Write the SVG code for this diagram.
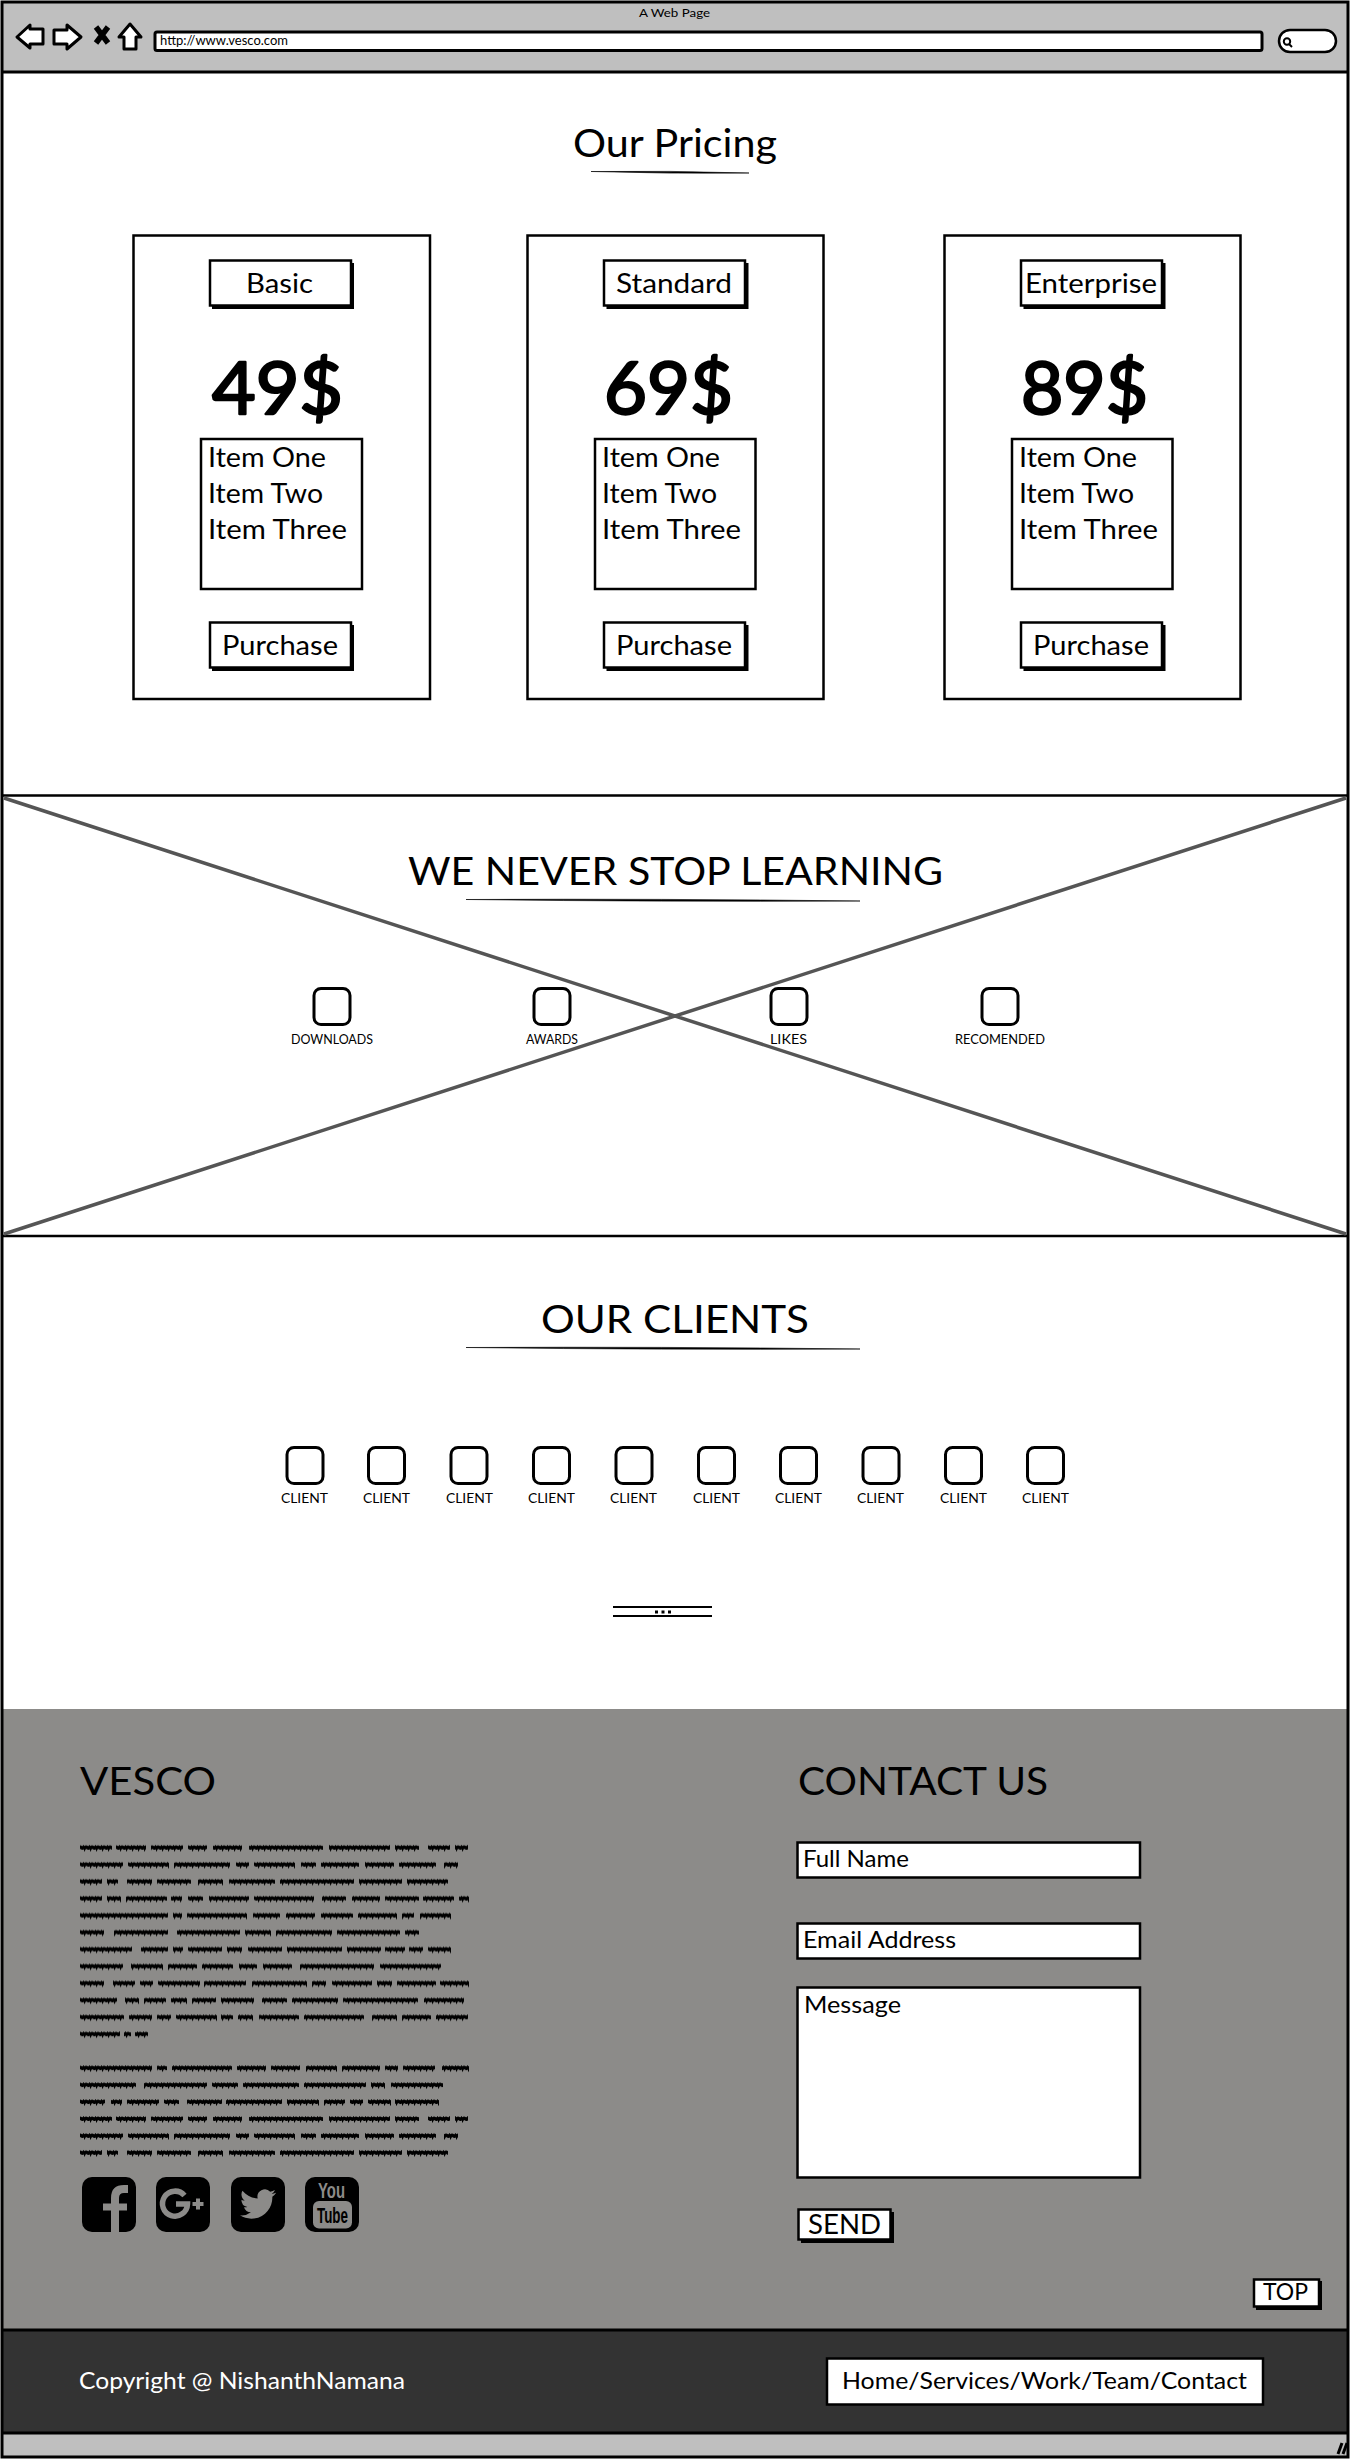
<svg xmlns="http://www.w3.org/2000/svg" width="1350" height="2460" viewBox="0 0 1350 2460">
<style>
text{font-family:"Lato","Noto Sans",sans-serif;fill:#000}
.b{fill:#fff;stroke:#000;stroke-width:2.5}
.card{fill:#fff;stroke:#000;stroke-width:2.5}
.sh{fill:#000}
.ic{fill:#fff;stroke:#000;stroke-width:3}
.l{font-size:26px}
.h{font-size:38px}
.p{font-size:72px;stroke:#000;stroke-width:2.4px;stroke-linejoin:round}
.s{font-size:14px}
.rule{fill:#000;stroke:#000;stroke-width:.6}
.ln{stroke:#000;stroke-width:3;fill:none}
.gs{fill:#000}
.gi{fill:#8c8b89;stroke:none}
.gk{fill:none;stroke:url(#greek);stroke-width:8}
</style>
<defs>
<pattern id="greek" patternUnits="userSpaceOnUse" x="0" y="1839.825" width="6" height="16.95">
<path d="M-1 11 Q1 6 3 7.500 Q4.500 9.500 7 6" fill="none" stroke="#000" stroke-width="3.400"/>
</pattern>
<g id="client"><rect x="-18" y="0" width="36" height="36" rx="7" class="ic"/></g>
</defs>

<rect width="1350" height="2460" fill="#fff"/>

<g id="browser-bar">
<rect x="2" y="2" width="1346" height="70" fill="#bfbfbf"/>
<text x="674.5" y="17" font-size="12" text-anchor="middle" textLength="71" lengthAdjust="spacingAndGlyphs">A Web Page</text>
<path d="M17 37L30 25V29H43V44H30V48Z" fill="#fff" stroke="#000" stroke-width="3" stroke-linejoin="round"/>
<path d="M54 30H67V25L81 37L67 49V44H54Z" fill="#fff" stroke="#000" stroke-width="3" stroke-linejoin="round"/>
<path d="M96 27L108 43M108 27L96 43" fill="none" stroke="#000" stroke-width="5.5"/>
<path d="M130 24L141 37H136V49H124V37H119Z" fill="#fff" stroke="#000" stroke-width="3" stroke-linejoin="round"/>
<rect x="155" y="32" width="1107" height="18.5" rx="2" fill="#fff" stroke="#000" stroke-width="3"/>
<text x="160" y="44.5" font-size="13" textLength="128" lengthAdjust="spacingAndGlyphs">http://www.vesco.com</text>
<rect x="1279" y="30" width="57" height="22" rx="11" fill="#fff" stroke="#000" stroke-width="2.5"/>
<circle cx="1287" cy="41.5" r="3.2" fill="none" stroke="#000" stroke-width="2"/>
<path d="M1289 44L1292 47" stroke="#000" stroke-width="2"/>
</g>

<g id="section-dark">
<rect x="2" y="1709" width="1346" height="621" fill="#8c8b89"/>
<rect x="2" y="2330" width="1346" height="103" fill="#333"/>
<rect x="2" y="2433" width="1346" height="24" fill="#bfbfbf"/>
</g>

<g id="frame">
<path class="ln" d="M2 2H1348V2457H2Z"/>
<path class="ln" d="M2 72H1348M2 2330H1348M2 2433H1348"/>
<path d="M2 795.5H1348M2 1236H1348" stroke="#000" stroke-width="2.5" fill="none"/>
</g>

<g id="heading-pricing">
<text class="h" x="675" y="157" font-size="36" text-anchor="middle" textLength="204" lengthAdjust="spacingAndGlyphs">Our Pricing</text>
<path class="rule" d="M591 171.500Q670 170.500 749 173Q670 174 591 171.500Z"/>
</g>

<g id="card-basic">
<rect class="card" x="133.500" y="235.500" width="296.500" height="463.500"/>
<rect class="sh" x="212" y="263" width="142" height="46"/><rect class="b" x="210" y="260.500" width="141" height="45"/>
<text class="l" x="246" y="293" textLength="67" lengthAdjust="spacingAndGlyphs">Basic</text>
<text class="p" x="212" y="414" textLength="131" lengthAdjust="spacingAndGlyphs">49$</text>
<rect class="b" x="201" y="439" width="161" height="150"/>
<text class="l" x="208" y="467" textLength="118" lengthAdjust="spacingAndGlyphs">Item One</text>
<text class="l" x="208" y="503" textLength="115" lengthAdjust="spacingAndGlyphs">Item Two</text>
<text class="l" x="208" y="539" textLength="139" lengthAdjust="spacingAndGlyphs">Item Three</text>
<rect class="sh" x="212" y="625" width="142" height="46"/><rect class="b" x="210" y="622.500" width="141" height="45"/>
<text class="l" x="222" y="655" textLength="116" lengthAdjust="spacingAndGlyphs">Purchase</text>
</g>

<g id="card-standard">
<rect class="card" x="527.500" y="235.500" width="296" height="463.500"/>
<rect class="sh" x="606.500" y="263" width="142" height="46"/><rect class="b" x="604" y="260.500" width="141" height="45"/>
<text class="l" x="616" y="293" textLength="116" lengthAdjust="spacingAndGlyphs">Standard</text>
<text class="p" x="604" y="414" textLength="129" lengthAdjust="spacingAndGlyphs">69$</text>
<rect class="b" x="595" y="439" width="160.500" height="150"/>
<text class="l" x="602" y="467" textLength="118" lengthAdjust="spacingAndGlyphs">Item One</text>
<text class="l" x="602" y="503" textLength="115" lengthAdjust="spacingAndGlyphs">Item Two</text>
<text class="l" x="602" y="539" textLength="139" lengthAdjust="spacingAndGlyphs">Item Three</text>
<rect class="sh" x="606.500" y="625" width="142" height="46"/><rect class="b" x="604" y="622.500" width="141" height="45"/>
<text class="l" x="616" y="655" textLength="116" lengthAdjust="spacingAndGlyphs">Purchase</text>
</g>

<g id="card-enterprise">
<rect class="card" x="944.500" y="235.500" width="296" height="463.500"/>
<rect class="sh" x="1023.500" y="263" width="142" height="46"/><rect class="b" x="1021" y="260.500" width="141" height="45"/>
<text class="l" x="1025" y="293" textLength="132" lengthAdjust="spacingAndGlyphs">Enterprise</text>
<text class="p" x="1021" y="414" textLength="127" lengthAdjust="spacingAndGlyphs">89$</text>
<rect class="b" x="1012" y="439" width="160.500" height="150"/>
<text class="l" x="1019" y="467" textLength="118" lengthAdjust="spacingAndGlyphs">Item One</text>
<text class="l" x="1019" y="503" textLength="115" lengthAdjust="spacingAndGlyphs">Item Two</text>
<text class="l" x="1019" y="539" textLength="139" lengthAdjust="spacingAndGlyphs">Item Three</text>
<rect class="sh" x="1023.500" y="625" width="142" height="46"/><rect class="b" x="1021" y="622.500" width="141" height="45"/>
<text class="l" x="1033" y="655" textLength="116" lengthAdjust="spacingAndGlyphs">Purchase</text>
</g>

<g id="learning-placeholder">
<path d="M4 798L1346 1234M4 1234L1346 798" stroke="#555" stroke-width="3.500" fill="none"/>
</g>

<g id="heading-learning">
<text class="h" x="408" y="885" textLength="535" lengthAdjust="spacingAndGlyphs">WE NEVER STOP LEARNING</text>
<path class="rule" d="M466 899.500Q660 898.500 860 901Q660 902 466 899.500Z"/>
</g>

<g id="stat-downloads"><use href="#client" x="332" y="988.500"/><text class="s" x="291" y="1044" textLength="82" lengthAdjust="spacingAndGlyphs">DOWNLOADS</text></g>
<g id="stat-awards"><use href="#client" x="552" y="988.500"/><text class="s" x="526" y="1044" textLength="52" lengthAdjust="spacingAndGlyphs">AWARDS</text></g>
<g id="stat-likes"><use href="#client" x="789" y="988.500"/><text class="s" x="770" y="1044" textLength="37" lengthAdjust="spacingAndGlyphs">LIKES</text></g>
<g id="stat-recomended"><use href="#client" x="1000" y="988.500"/><text class="s" x="955" y="1044" textLength="90" lengthAdjust="spacingAndGlyphs">RECOMENDED</text></g>

<g id="heading-clients">
<text class="h" x="541" y="1333" textLength="268" lengthAdjust="spacingAndGlyphs">OUR CLIENTS</text>
<path class="rule" d="M466 1347.500Q660 1346.500 860 1349Q660 1350 466 1347.500Z"/>
</g>

<g id="client-1"><use href="#client" x="305" y="1447.500"/><text class="s" x="281" y="1503" textLength="47" lengthAdjust="spacingAndGlyphs">CLIENT</text></g>
<g id="client-2"><use href="#client" x="386.500" y="1447.500"/><text class="s" x="363" y="1503" textLength="47" lengthAdjust="spacingAndGlyphs">CLIENT</text></g>
<g id="client-3"><use href="#client" x="469" y="1447.500"/><text class="s" x="446" y="1503" textLength="47" lengthAdjust="spacingAndGlyphs">CLIENT</text></g>
<g id="client-4"><use href="#client" x="551.500" y="1447.500"/><text class="s" x="528" y="1503" textLength="47" lengthAdjust="spacingAndGlyphs">CLIENT</text></g>
<g id="client-5"><use href="#client" x="634" y="1447.500"/><text class="s" x="610" y="1503" textLength="47" lengthAdjust="spacingAndGlyphs">CLIENT</text></g>
<g id="client-6"><use href="#client" x="716.500" y="1447.500"/><text class="s" x="693" y="1503" textLength="47" lengthAdjust="spacingAndGlyphs">CLIENT</text></g>
<g id="client-7"><use href="#client" x="798.500" y="1447.500"/><text class="s" x="775" y="1503" textLength="47" lengthAdjust="spacingAndGlyphs">CLIENT</text></g>
<g id="client-8"><use href="#client" x="881" y="1447.500"/><text class="s" x="857" y="1503" textLength="47" lengthAdjust="spacingAndGlyphs">CLIENT</text></g>
<g id="client-9"><use href="#client" x="963.500" y="1447.500"/><text class="s" x="940" y="1503" textLength="47" lengthAdjust="spacingAndGlyphs">CLIENT</text></g>
<g id="client-10"><use href="#client" x="1045.500" y="1447.500"/><text class="s" x="1022" y="1503" textLength="47" lengthAdjust="spacingAndGlyphs">CLIENT</text></g>

<g id="pager">
<path d="M613 1607H712M613 1616H712" stroke="#000" stroke-width="2" fill="none"/>
<path d="M655 1610.500h3v3h-3zM661.500 1610.500h3v3h-3zM668 1610.500h3v3h-3z" fill="#000"/>
</g>

<g id="about">
<text class="h" x="80" y="1795" textLength="136" lengthAdjust="spacingAndGlyphs">VESCO</text>
<path class="gk" d="M80 1848.3H112M116 1848.3H146M151 1848.3H183M188 1848.3H207M213 1848.3H242M249 1848.3H323M329 1848.3H390M395 1848.3H419M428 1848.3H450M455 1848.3H468
M80 1865.25H123M128 1865.25H169M174 1865.25H230M236 1865.25H249M254 1865.25H295M301 1865.25H316M321 1865.25H359M365 1865.25H394M399 1865.25H436M444 1865.25H458
M80 1882.2H102M107 1882.2H118M127 1882.2H152M157 1882.2H191M198 1882.2H223M229 1882.2H275M280 1882.2H354M359 1882.2H402M407 1882.2H448
M80 1899.15H102M107 1899.15H121M126 1899.15H167M171 1899.15H182M188 1899.15H203M209 1899.15H249M254 1899.15H314M322 1899.15H346M352 1899.15H380M385 1899.15H419M423 1899.15H454M459 1899.15H469
M80 1916.1H168M173 1916.1H182M187 1916.1H247M253 1916.1H280M286 1916.1H315M321 1916.1H353M358 1916.1H397M402 1916.1H414M420 1916.1H451
M80 1933.05H104M114 1933.05H168M177 1933.05H240M245 1933.05H271M276 1933.05H332M337 1933.05H400M405 1933.05H419
M80 1950H132M141 1950H168M173 1950H183M188 1950H222M227 1950H242M248 1950H282M287 1950H342M347 1950H381M385 1950H405M409 1950H423M428 1950H451
M80 1966.95H123M131 1966.95H163M168 1966.95H197M202 1966.95H233M239 1966.95H257M263 1966.95H292M300 1966.95H374M380 1966.95H441
M80 1983.9H104M113 1983.9H135M140 1983.9H153M158 1983.9H200M204 1983.9H246M252 1983.9H307M312 1983.9H326M332 1983.9H372M377 1983.9H392M397 1983.9H436M440 1983.9H469
M80 2000.85H117M125 2000.85H139M144 2000.85H166M171 2000.85H187M192 2000.85H216M221 2000.85H254M262 2000.85H287M292 2000.85H338M343 2000.85H418M424 2000.85H464
M80 2017.8H124M129 2017.8H152M157 2017.8H171M176 2017.8H217M221 2017.8H233M238 2017.8H253M259 2017.8H299M304 2017.8H364M372 2017.8H397M402 2017.8H431M436 2017.8H468
M80 2034.75H120M124 2034.75H131M135 2034.75H148"/>
<path class="gk" d="M80 2068.65H152M157 2068.65H167M172 2068.65H232M237 2068.65H266M271 2068.65H300M306 2068.65H337M342 2068.65H380M385 2068.65H398M403 2068.65H435M442 2068.65H469
M80 2085.6H136M144 2085.6H207M212 2085.6H238M243 2085.6H299M304 2085.6H366M371 2085.6H385M391 2085.6H443
M80 2102.55H105M111 2102.55H122M127 2102.55H159M164 2102.55H179M187 2102.55H222M226 2102.55H282M287 2102.55H319M324 2102.55H345M350 2102.55H363M368 2102.55H391M395 2102.55H439
M80 2119.5H112M116 2119.5H146M151 2119.5H183M188 2119.5H207M213 2119.5H242M249 2119.5H323M329 2119.5H390M395 2119.5H419M428 2119.5H450M455 2119.5H468
M80 2136.45H123M128 2136.45H169M174 2136.45H230M236 2136.45H249M254 2136.45H295M301 2136.45H316M321 2136.45H359M365 2136.45H394M399 2136.45H436M444 2136.45H458
M80 2153.4H102M107 2153.4H118M127 2153.4H152M157 2153.4H191M198 2153.4H223M229 2153.4H275M280 2153.4H354M359 2153.4H402M407 2153.4H448"/>
</g>

<g id="icon-facebook">
<rect class="gs" x="82" y="2177" width="54" height="55" rx="10"/>
<path d="M115 2232V2198Q115 2189 124 2189H128" fill="none" stroke="#8c8b89" stroke-width="8"/>
<path d="M103 2207H127" fill="none" stroke="#8c8b89" stroke-width="7"/>
</g>
<g id="icon-googleplus">
<rect class="gs" x="156" y="2177" width="54" height="55" rx="10"/>
<path d="M184.500 2195.500A12.500 12.500 0 1 0 187.500 2204H176" fill="none" stroke="#8c8b89" stroke-width="5.500"/>
<path d="M192.500 2204H203.500M198 2198.500V2209.500" fill="none" stroke="#8c8b89" stroke-width="4"/>
</g>
<g id="icon-twitter">
<rect class="gs" x="231" y="2177" width="54" height="55" rx="10"/>
<path class="gi" transform="translate(240 2186) scale(1.5)" d="M23.95 4.57a10 10 0 0 1-2.82.77 4.96 4.96 0 0 0 2.16-2.72c-.95.55-2 .96-3.13 1.19a4.92 4.92 0 0 0-8.38 4.48C7.69 8.1 4.07 6.13 1.64 3.16a4.82 4.82 0 0 0-.67 2.48c0 1.71.87 3.21 2.19 4.1a4.9 4.9 0 0 1-2.23-.62v.06a4.92 4.92 0 0 0 3.95 4.83 5 5 0 0 1-2.21.08 4.94 4.94 0 0 0 4.6 3.42A9.87 9.87 0 0 1 0 19.54a14 14 0 0 0 7.56 2.21c9.05 0 14-7.5 14-13.98 0-.21 0-.42-.02-.63a9.94 9.94 0 0 0 2.46-2.55z"/>
</g>
<g id="icon-youtube">
<rect class="gs" x="305" y="2177" width="54" height="55" rx="10"/>
<text x="318" y="2197.500" font-size="22" font-weight="700" style="font-family:'Liberation Sans',sans-serif;fill:#8c8b89" textLength="27" lengthAdjust="spacingAndGlyphs">You</text>
<rect class="gi" x="313" y="2201" width="39" height="27.500" rx="6"/>
<text x="317" y="2222.500" font-size="22" font-weight="700" style="font-family:'Liberation Sans',sans-serif" textLength="31" lengthAdjust="spacingAndGlyphs">Tube</text>
</g>

<g id="contact">
<text class="h" x="798" y="1795" textLength="250" lengthAdjust="spacingAndGlyphs">CONTACT US</text>
<rect class="b" x="797.500" y="1842.500" width="342.500" height="35"/>
<text x="803" y="1867" font-size="23" textLength="106" lengthAdjust="spacingAndGlyphs">Full Name</text>
<rect class="b" x="797.500" y="1923.500" width="342.500" height="35"/>
<text x="803" y="1948" font-size="23" textLength="153" lengthAdjust="spacingAndGlyphs">Email Address</text>
<rect class="b" x="797.500" y="1987.500" width="342.500" height="190"/>
<text x="804" y="2013" font-size="23" textLength="97" lengthAdjust="spacingAndGlyphs">Message</text>
<rect class="sh" x="801" y="2212" width="93" height="31"/><rect class="b" x="798.500" y="2209.500" width="92" height="30"/>
<text x="808" y="2233.500" font-size="27" textLength="73" lengthAdjust="spacingAndGlyphs">SEND</text>
</g>

<g id="top-button">
<rect class="sh" x="1256" y="2281" width="66" height="29"/><rect class="b" x="1254" y="2279.500" width="65" height="27"/>
<text x="1263" y="2300" font-size="24" textLength="45" lengthAdjust="spacingAndGlyphs">TOP</text>
</g>

<g id="footer">
<text x="79" y="2389" font-size="24" style="fill:#fff" textLength="326" lengthAdjust="spacingAndGlyphs">Copyright @ NishanthNamana</text>
<rect class="b" x="827" y="2358.500" width="436" height="46"/>
<text x="842" y="2389" font-size="24" textLength="405" lengthAdjust="spacingAndGlyphs">Home/Services/Work/Team/Contact</text>
<path d="M1338 2454L1342 2443M1343 2454L1347 2443" stroke="#000" stroke-width="3" fill="none"/>
</g>
</svg>
